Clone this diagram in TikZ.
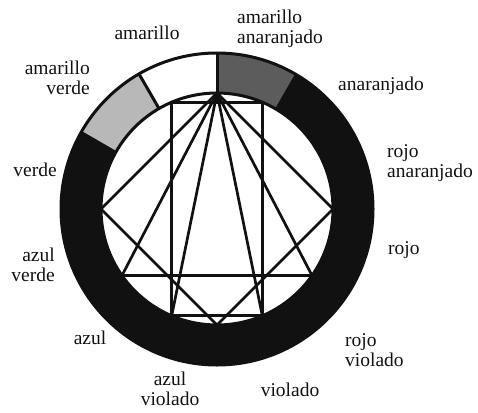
\documentclass[tikz,border=0pt]{standalone}
\usepackage{fontspec}
\setmainfont{Liberation Serif}
\usetikzlibrary{positioning,calc}
\definecolor{cInk}{HTML}{111111}
\definecolor{cDark}{gray}{0.36}
\definecolor{cLight}{gray}{0.72}
\tikzset{
  hue/.style={font=\fontsize{19.5}{20}\selectfont, inner sep=0pt, text=cInk},
  hueL/.style={hue, align=left},
  hueR/.style={hue, align=right},
  hueC/.style={hue, align=center},
  rim/.style={draw=cInk, line width=3pt},
  chord/.style={draw=cInk, line width=2.7pt, line cap=round},
}

\begin{document}
\begin{tikzpicture}[x=1pt, y=1pt]
    \useasboundingbox (0,0) rectangle (478,-412);
    \def\Ro{156}
    \def\Ri{116}
    \coordinate (c) at (217,-209);
    \fill[cInk, even odd rule] (c) circle[radius=\Ro] (c) circle[radius=\Ri];
    \fill[cDark] ($(c)+(60:\Ro)$) arc[start angle=60, end angle=90, radius=\Ro]
      -- ($(c)+(90:\Ri)$) arc[start angle=90, end angle=60, radius=\Ri] -- cycle;
    \fill[white] ($(c)+(90:\Ro)$) arc[start angle=90, end angle=120, radius=\Ro]
      -- ($(c)+(120:\Ri)$) arc[start angle=120, end angle=90, radius=\Ri] -- cycle;
    \fill[cLight] ($(c)+(120:\Ro)$) arc[start angle=120, end angle=150, radius=\Ro]
      -- ($(c)+(150:\Ri)$) arc[start angle=150, end angle=120, radius=\Ri] -- cycle;
    \draw[rim] (c) circle[radius=\Ro];
    \draw[rim] (c) circle[radius=\Ri];
    \draw[rim] ($(c)+(90:\Ri)$) -- ($(c)+(90:\Ro)$);
    \draw[rim] ($(c)+(120:\Ri)$) -- ($(c)+(120:\Ro)$);

    \coordinate (apex)  at ($(c)+(90:\Ri)$);
    \coordinate (west)  at ($(c)+(180:\Ri)$);
    \coordinate (east)  at ($(c)+(0:\Ri)$);
    \coordinate (south) at ($(c)+(270:\Ri)$);
    \coordinate (triL)  at ($(c)+(215:\Ri)$);
    \coordinate (triR)  at ($(c)+(325:\Ri)$);
    \coordinate (recTL) at ($(c)+(113:\Ri)$);
    \coordinate (recTR) at ($(c)+(67:\Ri)$);
    \coordinate (recBL) at ($(c)+(247:\Ri)$);
    \coordinate (recBR) at ($(c)+(293:\Ri)$);

    \draw[chord] (recTL) -- (recTR) -- (recBR) -- (recBL) -- cycle;
    \draw[chord] (west) -- (apex) -- (east) -- (south) -- cycle;
    \draw[chord] (triL) -- (apex) -- (triR) -- cycle;
    \draw[chord] (recBL) -- (apex) -- (recBR);

    \node[hue] (am) at (147,-33) {amarillo};
    \node[hueL, anchor=west] (aman) at (237,-29) {amarillo\\anaranjado};
    \node[hue, anchor=west]  (an)   at (338,-86) {anaranjado};
    \node[hueL, anchor=west] (roan) at (387,-163) {rojo\\anaranjado};
    \node[hue, anchor=west]  (ro)   at (388,-250) {rojo};
    \node[hueL, anchor=west] (rovi) at (345,-350) {rojo\\violado};
    \node[hue]               (vi)   at (290,-390) {violado};
    \node[hueC]              (azvi) at (170,-389) {azul\\violado};
    \node[hue]               (az)   at (90,-338)  {azul};
    \node[hueR, anchor=east] (azve) at (55,-265)  {azul\\verde};
    \node[hue, anchor=east]  (ve)   at (57,-170)  {verde};
    \node[hueR, anchor=east] (amve) at (90,-78)   {amarillo\\verde};
  \end{tikzpicture}
\end{document}
